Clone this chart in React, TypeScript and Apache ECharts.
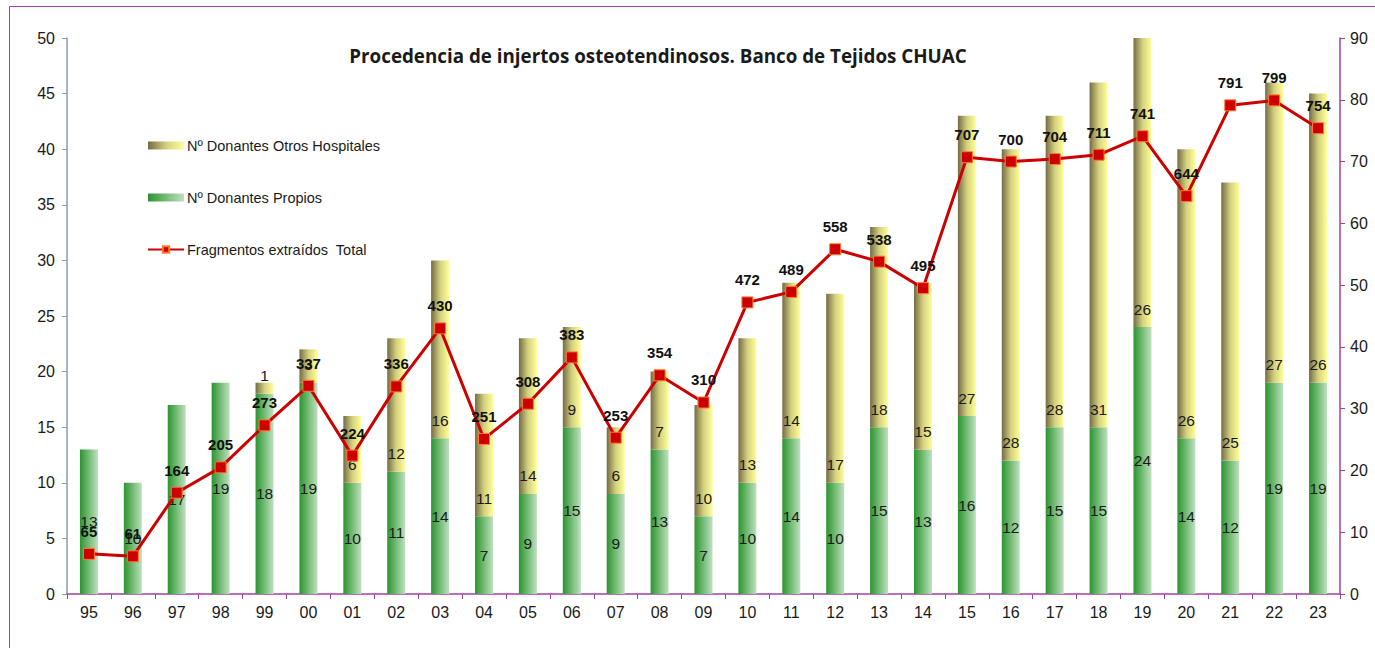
import React, { useEffect, useRef } from "react";
import * as echarts from "echarts";

const years = ["95","96","97","98","99","00","01","02","03","04","05","06","07","08","09","10","11","12","13","14","15","16","17","18","19","20","21","22","23"];
const propios = [13,10,17,19,18,19,10,11,14,7,9,15,9,13,7,10,14,10,15,13,16,12,15,15,24,14,12,19,19];
const otros = [0,0,0,0,1,3,6,12,16,11,14,9,6,7,10,13,14,17,18,15,27,28,28,31,26,26,25,27,26];
const fragmentos = [65,61,164,205,273,337,224,336,430,251,308,383,253,354,310,472,489,558,538,495,707,700,704,711,741,644,791,799,754];
const leftTicks = { min: 0, max: 50, interval: 5 };
const rightTicks = { min: 0, max: 900, interval: 100 };

const TITLE = "Procedencia de injertos osteotendinosos. Banco de Tejidos CHUAC";
const NAME_OTROS = "Nº Donantes Otros Hospitales";
const NAME_PROPIOS = "Nº Donantes Propios";
const NAME_FRAG = "Fragmentos extraídos  Total";

export default function App() {
  const ref = useRef<HTMLDivElement>(null);
  useEffect(() => {
    if (!ref.current) return;
    const chart = echarts.init(ref.current, null, { renderer: "svg" });
    const greenGrad = new echarts.graphic.LinearGradient(0, 0, 1, 0, [
      { offset: 0, color: "#2c942f" },
      { offset: 0.4, color: "#66b468" },
      { offset: 1, color: "#c0e0c0" },
    ]);
    const yellowGrad = new echarts.graphic.LinearGradient(0, 0, 1, 0, [
      { offset: 0, color: "#736c45" },
      { offset: 0.5, color: "#d4d07e" },
      { offset: 1, color: "#ffff99" },
    ]);
    const purple = "#a040a8";
    const font = "'Liberation Sans', Arial, sans-serif";
    chart.setOption({
      animation: false,
      textStyle: { fontFamily: font },
      title: {
        text: TITLE,
        left: 653,
        textAlign: "center",
        top: 41,
        textStyle: { fontFamily: "'Open Sans', sans-serif", fontWeight: "bold", fontSize: 18.8, color: "#1a1a1a" },
      },
      graphic: [
        {
          type: "rect",
          shape: { x: 9.5, y: 6.5, width: 1400, height: 700 },
          style: { fill: "none", stroke: purple, lineWidth: 1 },
          silent: true,
        },
      ],
      legend: {
        orient: "vertical",
        left: 142,
        top: 133,
        itemWidth: 36,
        itemHeight: 8,
        itemGap: 37,
        data: [
          { name: NAME_OTROS, icon: "rect" },
          { name: NAME_PROPIOS, icon: "rect" },
          { name: NAME_FRAG },
        ],
        textStyle: { fontFamily: font, fontSize: 14.5, color: "#1a1a1a", padding: [0, 0, 0, -2] },
      },
      grid: { left: 67, right: 35, top: 38, bottom: 54 },
      xAxis: {
        type: "category",
        data: years,
        axisLine: { lineStyle: { color: purple, width: 1.5 } },
        axisTick: { show: true, length: 5, lineStyle: { color: purple }, alignWithLabel: false },
        axisLabel: { fontSize: 16, color: "#1a1a1a", margin: 10, fontFamily: font },
      },
      yAxis: [
        {
          type: "value",
          ...leftTicks,
          position: "left",
          axisLine: { show: true, lineStyle: { color: "#8c9ab0", width: 1.5 } },
          axisTick: { show: true, length: 5, lineStyle: { color: "#8c9ab0" } },
          axisLabel: { fontSize: 16, color: "#1a1a1a", margin: 12, fontFamily: font },
          splitLine: { show: false },
        },
        {
          type: "value",
          ...rightTicks,
          position: "right",
          axisLine: { show: true, lineStyle: { color: purple, width: 1.5 } },
          axisTick: { show: true, length: 5, lineStyle: { color: purple } },
          axisLabel: { fontSize: 16, color: "#1a1a1a", margin: 10, fontFamily: font, formatter: (v: number) => String(v / 10) },
          splitLine: { show: false },
        },
      ],
      series: [
        {
          name: NAME_PROPIOS,
          type: "bar",
          stack: "d",
          data: propios,
          barWidth: 18,
          itemStyle: { color: greenGrad },
          label: { show: true, position: "inside", fontSize: 15.5, color: "#1a1a1a", fontFamily: font },
          z: 2,
        },
        {
          name: NAME_OTROS,
          type: "bar",
          stack: "d",
          data: otros,
          barWidth: 18,
          itemStyle: { color: yellowGrad },
          label: {
            show: true,
            position: "insideBottom",
            distance: 10,
            fontSize: 15.5,
            color: "#1a1a1a",
            fontFamily: font,
            formatter: (p: any) => (p.value ? String(p.value) : ""),
          },
          z: 2,
        },
        {
          name: NAME_FRAG,
          type: "line",
          yAxisIndex: 1,
          data: fragmentos,
          symbol: "rect",
          symbolSize: 11,
          lineStyle: { color: "#cc0000", width: 3 },
          itemStyle: { color: "#cc0000", borderColor: "#ff7a30", borderWidth: 1 },
          label: { show: true, position: "top", distance: 9, fontSize: 15, fontWeight: "bold", color: "#111", fontFamily: font },
          z: 5,
        },
      ],
    });
    return () => chart.dispose();
  }, []);
  return <div ref={ref} style={{ position: "fixed", left: 0, top: 0, width: 1375, height: 648, background: "#fff" }} />;
}
